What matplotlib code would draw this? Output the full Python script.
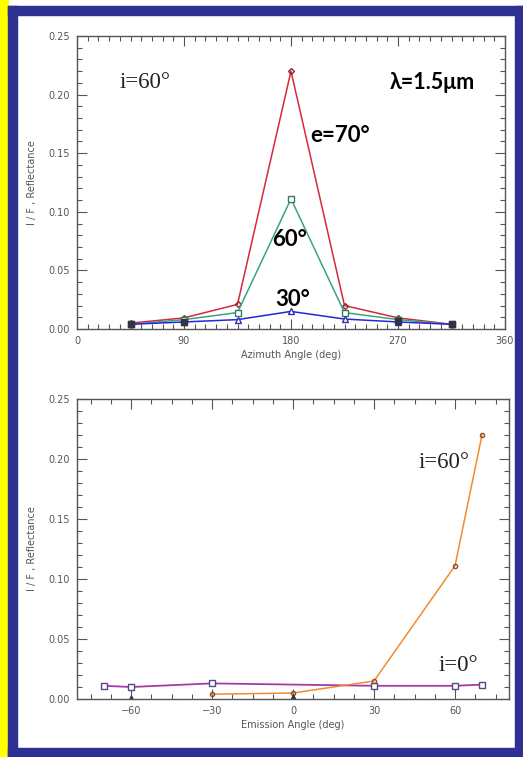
import numpy as np
import matplotlib
matplotlib.use("Agg")
import matplotlib.pyplot as plt
from matplotlib.patches import Rectangle
from matplotlib.ticker import MultipleLocator

# top panel: reflectance vs azimuth, i=60
azimuth = [45, 90, 135, 180, 225, 270, 315]
refl_e70 = [0.005, 0.0095, 0.021, 0.220, 0.020, 0.0095, 0.004]
refl_e60 = [0.004, 0.008, 0.014, 0.111, 0.014, 0.008, 0.004]
refl_e30 = [0.004, 0.006, 0.008, 0.015, 0.0085, 0.006, 0.004]
dark_az = [45, 90, 270, 315]
dark_az_refl = [0.004, 0.006, 0.0065, 0.004]

# bottom panel: reflectance vs emission angle
emis_i60 = [-30, 0, 30, 60, 70]
refl_i60 = [0.004, 0.005, 0.015, 0.111, 0.220]
emis_i0 = [-70, -60, -30, 30, 60, 70]
refl_i0 = [0.011, 0.010, 0.013, 0.011, 0.011, 0.012]
dark_emis = [-60, 0]
dark_emis_refl = [0.001, 0.002]

GRAY = "#555555"


def style_axis(ax, xmaj, xmin):
    ax.set_ylim(0, 0.25)
    ax.yaxis.set_major_locator(MultipleLocator(0.05))
    ax.yaxis.set_minor_locator(MultipleLocator(0.01))
    ax.xaxis.set_major_locator(MultipleLocator(xmaj))
    ax.xaxis.set_minor_locator(MultipleLocator(xmin))
    ax.yaxis.set_major_formatter(lambda v, p: "%.2f" % v)
    ax.tick_params(which="both", direction="in", top=True, right=True,
                   colors=GRAY, labelsize=7, labelcolor=GRAY, width=0.8)
    ax.tick_params(which="major", length=7, pad=5)
    ax.tick_params(which="minor", length=3.5)
    for s in ax.spines.values():
        s.set_color(GRAY)
        s.set_linewidth(1.0)
    ax.set_ylabel("I / F , Reflectance", fontsize=7, color=GRAY, labelpad=8)


def main():
    fig = plt.figure(figsize=(5.23, 7.57), dpi=100)
    W, H = 523.0, 757.0

    # frame around the slide image
    fig.patches.append(Rectangle((0, 0), 8 / W, 1, transform=fig.transFigure,
                                 color="#ffff00", zorder=0))
    blue = "#2e3192"
    fig.patches.append(Rectangle((8 / W, 0), 9 / W, 751 / H, transform=fig.transFigure,
                                 color=blue, zorder=0))
    fig.patches.append(Rectangle((8 / W, 742 / H), 1 - 8 / W, 9 / H, transform=fig.transFigure,
                                 color=blue, zorder=0))
    fig.patches.append(Rectangle((8 / W, 0), 1 - 8 / W, 9 / H, transform=fig.transFigure,
                                 color=blue, zorder=0))
    fig.patches.append(Rectangle((515 / W, 0), 8 / W, 751 / H, transform=fig.transFigure,
                                 color=blue, zorder=0))

    bold = dict(family="Lato", weight="bold", va="center")
    serif = dict(family="Liberation Serif", color="#222222", va="center")

    # top panel
    ax1 = fig.add_axes([77 / W, 1 - 329 / H, 428 / W, 293 / H])
    ax1.plot(azimuth, refl_e70, color="#d8283c", lw=1.1, marker="D", ms=3,
             mfc="none", mec="#8a3030")
    ax1.plot(azimuth, refl_e60, color="#3aa384", lw=1.1, marker="s", ms=4,
             mfc="white", mec="#3a7a60")
    ax1.plot(azimuth, refl_e30, color="#2626d9", lw=1.1, marker="^", ms=4,
             mfc="white", mec="#3030a0")
    ax1.plot(dark_az, dark_az_refl, ls="none", marker="s", ms=4, color="#333344")
    ax1.set_xlim(0, 360)
    style_axis(ax1, 90, 9)
    ax1.set_xlabel("Azimuth Angle (deg)", fontsize=7, color=GRAY, labelpad=3)

    ax1.text(0.10, 0.843, "i=60°", transform=ax1.transAxes, fontsize=16.5, **serif)
    ax1.text(0.731, 0.84, "λ=1.5μm", transform=ax1.transAxes, fontsize=15.5, **bold)
    ax1.text(0.544, 0.662, "e=70°", transform=ax1.transAxes, fontsize=16, **bold)
    ax1.text(0.456, 0.304, "60°", transform=ax1.transAxes, fontsize=16, **bold)
    ax1.text(0.463, 0.102, "30°", transform=ax1.transAxes, fontsize=16, **bold)

    # bottom panel
    ax2 = fig.add_axes([77 / W, 1 - 699 / H, 432 / W, 300 / H])
    ax2.plot(emis_i0, refl_i0, color="#a63aa6", lw=1.3, marker="s", ms=4,
             mfc="white", mec="#504a80")
    ax2.plot(emis_i60, refl_i60, color="#f28a2e", lw=1.1, marker="o", ms=3,
             mfc="none", mec="#8a5030")
    ax2.plot(dark_emis, dark_emis_refl, ls="none", marker="^", ms=3.5, color="#333333")
    ax2.set_xlim(-80, 80)
    style_axis(ax2, 30, 7.5)
    ax2.set_xlabel("Emission Angle (deg)", fontsize=7, color=GRAY, labelpad=3)

    ax2.text(0.79, 0.79, "i=60°", transform=ax2.transAxes, fontsize=16.5, **serif)
    ax2.text(0.836, 0.113, "i=0°", transform=ax2.transAxes, fontsize=16.5, **serif)

    fig.savefig("out.png", dpi=100)


main()
